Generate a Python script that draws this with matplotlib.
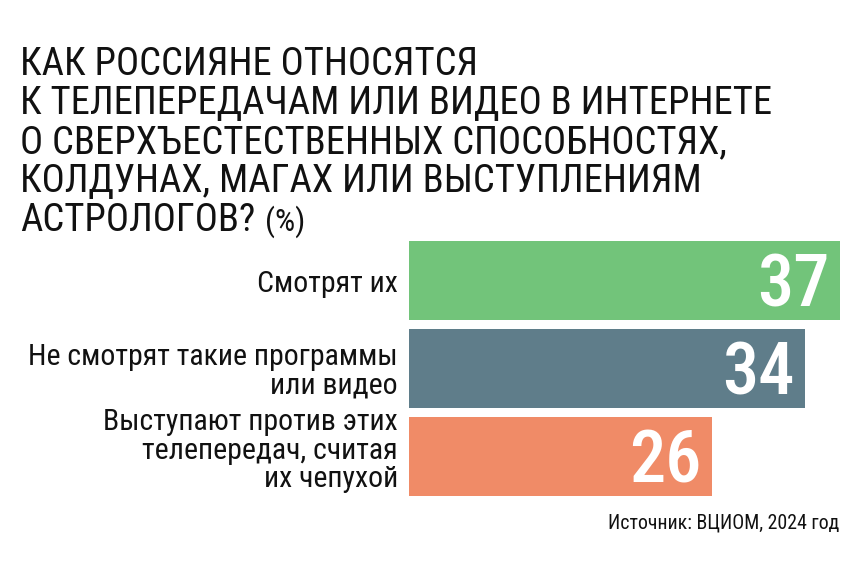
import matplotlib
matplotlib.use("Agg")
import matplotlib.pyplot as plt
from matplotlib import transforms

categories = ["Смотрят их",
              "Не смотрят такие программы\nили видео",
              "Выступают против этих\nтелепередач, считая\nих чепухой"]
values = [37, 34, 26]
colors = ["#72c47a", "#5f7d8a", "#f08b67"]
title_lines = ["КАК РОССИЯНЕ ОТНОСЯТСЯ",
               "К ТЕЛЕПЕРЕДАЧАМ ИЛИ ВИДЕО В ИНТЕРНЕТЕ",
               "О СВЕРХЪЕСТЕСТВЕННЫХ СПОСОБНОСТЯХ,",
               "КОЛДУНАХ, МАГАХ ИЛИ ВЫСТУПЛЕНИЯМ",
               "АСТРОЛОГОВ?"]
title_unit = "(%)"
source = "Источник: ВЦИОМ, 2024 год"

FONT = "Roboto Condensed"
W, H = 868, 576
fig = plt.figure(figsize=(W / 100, H / 100), dpi=100)
fig.patch.set_facecolor("white")

# bars axes
ax = fig.add_axes([409 / W, (H - 496) / H, 431 / W, 255 / H])
pos = list(range(len(values)))
ax.barh(pos, values, height=79 / 88, color=colors)
ax.set_xlim(0, max(values))
ax.set_ylim(len(values) - 1 + 0.5 * 79 / 88, -0.5 * 79 / 88)
ax.axis("off")

label_shift = [-11.5, -24.5, -30.5]  # px, last-line baseline relative to bar centre
for i, (v, lab) in enumerate(zip(values, categories)):
    tr = transforms.offset_copy(ax.transData, fig=fig, x=-10, y=-26, units="dots")
    ax.text(v, i, str(v), transform=tr, ha="right", va="baseline",
            color="white", fontsize=52, family=FONT, fontweight="medium")
    trl = transforms.offset_copy(ax.transData, fig=fig, x=-11, y=label_shift[i], units="dots")
    ax.text(0, i, lab, transform=trl, ha="right", va="baseline", multialignment="right",
            fontsize=21.5, family=FONT, color="#111111", linespacing=1.02)

# title lines
baselines = [75, 114, 153, 192, 231]
for line, b in zip(title_lines, baselines):
    t = fig.text(20 / W, 1 - b / H, line, ha="left", va="baseline",
                 fontsize=27.8, family=FONT, color="#111111")
fig.canvas.draw()
bb = t.get_window_extent()
fig.text((bb.x1 + 10) / W, 1 - 231 / H, title_unit, ha="left", va="baseline",
         fontsize=23, family=FONT, color="#111111")

fig.text(839 / W, 1 - 528 / H, source, ha="right", va="baseline",
         fontsize=14.3, family=FONT, color="#111111")

fig.savefig("out.png", dpi=100, facecolor="white")
